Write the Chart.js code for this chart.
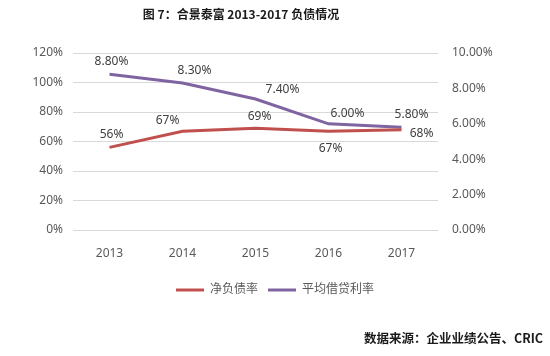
<!DOCTYPE html>
<html>
<head>
<meta charset="utf-8">
<script src="https://cdn.jsdelivr.net/npm/chart.js@4/dist/chart.umd.min.js"></script>
<style>
  html, body { margin: 0; padding: 0; background: #ffffff; }
  #wrap { position: relative; width: 550px; height: 356px; overflow: hidden; }
  #title { position: absolute; left: 0; top: 5px; width: 482px; text-align: center;
    font: bold 12px "Noto Sans CJK SC", "Noto Sans", sans-serif; color: #1a1a1a; }
  #source { position: absolute; right: 7px; top: 328px;
    font: bold 12.5px "Noto Sans CJK SC", "Noto Sans", sans-serif; color: #1a1a1a; }
  canvas { position: absolute; left: 0; top: 0; }
</style>
</head>
<body>
<div id="wrap">
  <canvas id="c" width="550" height="356"></canvas>
  <div id="title">图 7：合景泰富 2013-2017 负债情况</div>
  <div id="source">数据来源：企业业绩公告、CRIC</div>
</div>
<script>
// ---- data ----
const categories = ['2013', '2014', '2015', '2016', '2017'];
const netDebtRatio = [56, 67, 69, 67, 68];          // 净负债率 (%), left axis
const avgBorrowingRate = [8.80, 8.30, 7.40, 6.00, 5.80]; // 平均借贷利率 (%), right axis
const seriesNames = ['净负债率', '平均借贷利率'];

// ---- label placement (style only) ----
const redLabelOffsets = [[2, -13], [-15, -11], [4, -12], [2, 17], [20, 4]];
const purpleLabelOffsets = [[2, -13], [12, -13], [27, -9], [19, -10], [10, -13]];

const FONT = "'Noto Sans', 'Noto Sans CJK SC', sans-serif";
const RED = '#C0504D';
const PURPLE = '#8064A2';

const labelPlugin = {
  id: 'pointLabels',
  afterDatasetsDraw(chart) {
    const ctx = chart.ctx;
    ctx.save();
    ctx.font = '12px ' + FONT;
    ctx.fillStyle = '#404040';
    ctx.textAlign = 'center';
    ctx.textBaseline = 'middle';
    const specs = [
      { idx: 0, offs: redLabelOffsets, fmt: v => Math.round(v) + '%' },
      { idx: 1, offs: purpleLabelOffsets, fmt: v => v.toFixed(2) + '%' }
    ];
    specs.forEach(s => {
      const meta = chart.getDatasetMeta(s.idx);
      const data = chart.data.datasets[s.idx].data;
      meta.data.forEach((pt, i) => {
        ctx.fillText(s.fmt(data[i]), pt.x + s.offs[i][0], pt.y + s.offs[i][1]);
      });
    });
    ctx.restore();
  }
};

new Chart(document.getElementById('c'), {
  type: 'line',
  data: {
    labels: categories,
    datasets: [
      {
        label: seriesNames[0],
        data: netDebtRatio,
        yAxisID: 'y',
        borderColor: RED,
        backgroundColor: RED,
        borderWidth: 3,
        pointRadius: 0,
        tension: 0,
        fill: false
      },
      {
        label: seriesNames[1],
        data: avgBorrowingRate,
        yAxisID: 'y1',
        borderColor: PURPLE,
        backgroundColor: PURPLE,
        borderWidth: 3,
        pointRadius: 0,
        tension: 0,
        fill: false
      }
    ]
  },
  options: {
    responsive: false,
    devicePixelRatio: 1,
    animation: false,
    layout: { padding: { top: 53, left: 0, right: 0, bottom: 50 } },
    plugins: {
      title: { display: false },
      tooltip: { enabled: false },
      legend: {
        display: true,
        position: 'bottom',
        labels: {
          usePointStyle: true,
          pointStyle: 'line',
          pointStyleWidth: 28,
          padding: 10,
          color: '#595959',
          font: { family: FONT, size: 12 }
        }
      }
    },
    scales: {
      x: {
        offset: true,
        grid: { display: false, drawTicks: false, offset: true },
        border: { display: false },
        ticks: { color: '#595959', padding: 16, font: { family: FONT, size: 12 } },
        afterFit(scale) { scale.height = 44; }
      },
      y: {
        position: 'left',
        min: 0,
        max: 120,
        ticks: {
          stepSize: 20,
          padding: 10,
          color: '#595959',
          font: { family: FONT, size: 12 },
          callback: v => v + '%'
        },
        grid: { color: '#D9D9D9', lineWidth: 1, drawTicks: false },
        border: { display: false },
        afterFit(scale) { scale.width = 73; }
      },
      y1: {
        position: 'right',
        min: 0,
        max: 10,
        ticks: {
          stepSize: 2,
          padding: 14,
          color: '#595959',
          font: { family: FONT, size: 12 },
          callback: v => v.toFixed(2) + '%'
        },
        grid: { display: false, drawTicks: false },
        border: { display: false },
        afterFit(scale) { scale.width = 112; }
      }
    }
  },
  plugins: [labelPlugin]
});
</script>
</body>
</html>
